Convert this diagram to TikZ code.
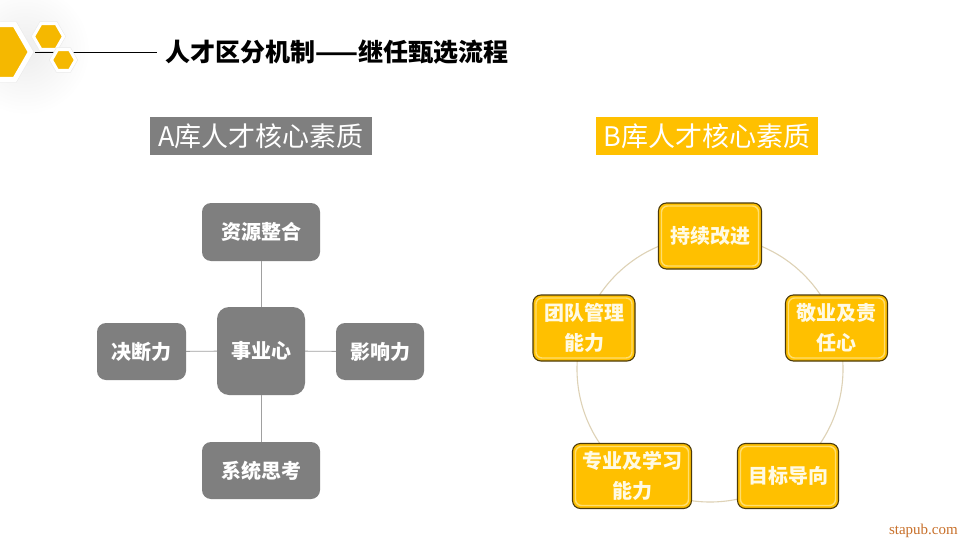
\documentclass[tikz,border=0pt]{standalone}
\usepackage{fontspec}
\setmainfont{Noto Sans CJK SC}
\newfontfamily\wmfont{Liberation Serif}
\definecolor{hexy}{RGB}{245,184,0}
\definecolor{yel}{RGB}{255,192,0}
\definecolor{yellight}{RGB}{255,222,110}
\definecolor{boxgray}{RGB}{127,127,127}
\definecolor{ringc}{RGB}{222,210,182}
\definecolor{ybord}{RGB}{75,58,10}
\definecolor{ytext}{RGB}{255,250,228}
\definecolor{wmc}{RGB}{200,112,42}
\definecolor{connc}{RGB}{160,160,160}
\newcommand\myhex[3]{%
  \draw[#3] (#1) +(0:#2) -- +(60:#2) -- +(120:#2) -- +(180:#2) -- +(240:#2) -- +(300:#2) -- cycle;}
\begin{document}
\begin{tikzpicture}[x=1pt,y=-1pt,
  gbox/.style={rectangle, rounded corners=9, fill=boxgray, text=white,
    font=\bfseries\fontsize{20}{24}\selectfont, inner sep=0pt},
  ybox/.style={rectangle, rounded corners=8, fill=yel, draw=ybord, line width=1.1pt,
    text=ytext, align=center, font=\bfseries\fontsize{20}{30}\selectfont, inner sep=0pt,
    path picture={\draw[yellight, line width=1.4pt, rounded corners=6]
      ([shift={(3,3)}]path picture bounding box.north west) rectangle
      ([shift={(-3,-3)}]path picture bounding box.south east);}},
  conn/.style={draw=connc, line width=0.9pt},
  ring/.style={draw=ringc, line width=1.1pt},
  label/.style={rectangle, text=white, minimum width=222, minimum height=38,
    inner sep=0pt, font=\fontsize{27}{30}\selectfont}
]
\useasboundingbox (0,0) rectangle (960,540);
\fill[white] (0,0) rectangle (960,540);
% soft shade at top-left
\shade[inner color=black!7, outer color=white] (25,50) circle (65);
% title line
\coordinate (tl1) at (35,52);
\coordinate (tl2) at (157,52);
\draw[black, line width=0.9pt] (tl1) -- (tl2);
% hexagons
\coordinate (h1) at (-1,52);
\coordinate (h2) at (48.5,36.5);
\coordinate (h3) at (63.5,60);
\myhex{h1}{34.5}{draw=black!8, line width=1pt}
\myhex{h1}{31.5}{fill=hexy, draw=white, line width=5pt}
\myhex{h2}{17}{draw=black!8, line width=0.8pt}
\myhex{h2}{15}{fill=hexy, draw=white, line width=3pt}
\myhex{h3}{14}{draw=black!8, line width=0.8pt}
\myhex{h3}{12}{fill=hexy, draw=white, line width=3pt}
% title
\node[anchor=west, inner sep=0pt, font=\bfseries\fontsize{25}{28}\selectfont] (title) at (165,52) {人才区分机制——继任甄选流程};
% section labels
\node[label, fill=boxgray] (la) at (261,136) {A库人才核心素质};
\node[label, fill=yel] (lb) at (707,136) {B库人才核心素质};
% left diagram
\node[gbox, minimum width=118, minimum height=58] (zy) at (261,232) {资源整合};
\node[gbox, rounded corners=12, minimum width=88, minimum height=88] (sy) at (261,351) {事业心};
\node[gbox, minimum width=89, minimum height=57] (jd) at (141.5,351.5) {决断力};
\node[gbox, minimum width=88, minimum height=57] (yx) at (380,351.5) {影响力};
\node[gbox, minimum width=118, minimum height=57] (xt) at (261,470.5) {系统思考};
\draw[conn] (sy) -- (zy);
\draw[conn] (sy) -- (jd);
\draw[conn] (sy) -- (yx);
\draw[conn] (sy) -- (xt);
% right diagram
\coordinate (cc) at (710,369);
\draw[ring] (cc) circle (133);
\node[ybox, minimum width=103, minimum height=66] (cx) at (710,236) {持续改进};
\node[ybox, minimum width=102, minimum height=66] (jy) at (836.5,328) {敬业及责\\任心};
\node[ybox, minimum width=101, minimum height=65] (mb) at (788,476) {目标导向};
\node[ybox, minimum width=119, minimum height=65] (zx) at (632,476) {专业及学习\\能力};
\node[ybox, minimum width=102, minimum height=66] (td) at (584,328) {团队管理\\能力};
% watermark
\node[anchor=east, inner sep=0pt, text=wmc, font=\wmfont\fontsize{15}{18}\selectfont] (wm) at (958,531) {stapub.com};
\end{tikzpicture}
\end{document}
